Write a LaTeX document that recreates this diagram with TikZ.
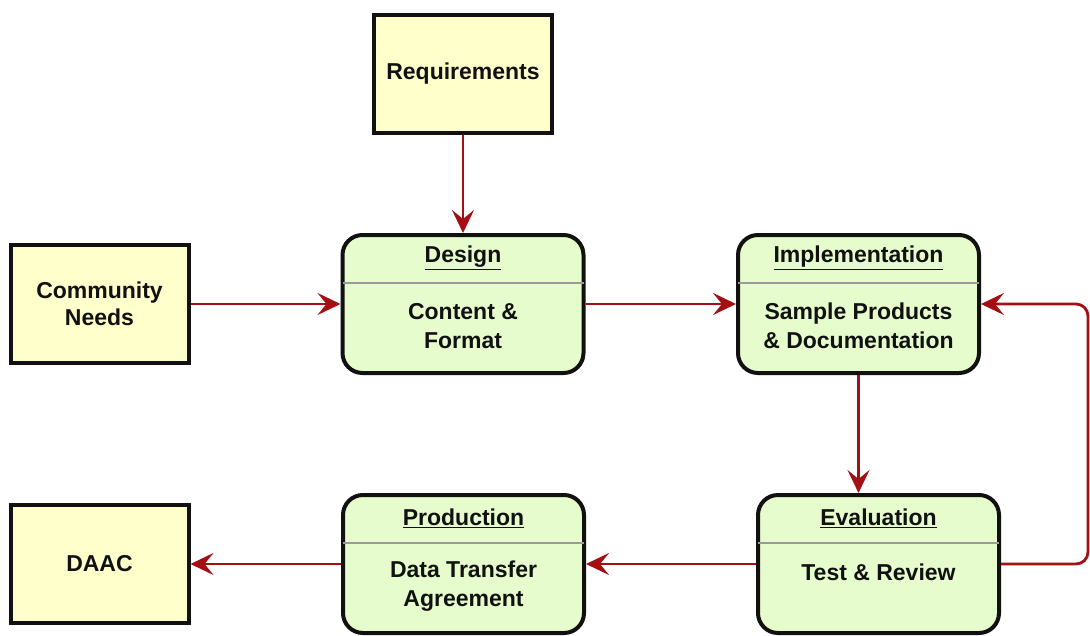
\documentclass[tikz,border=0pt]{standalone}
\usepackage{fontspec}
\setmainfont{Liberation Sans}
\usetikzlibrary{arrows.meta,calc}
\definecolor{boxyellow}{HTML}{FFFFCC}
\definecolor{boxgreen}{HTML}{E6FCCC}
\definecolor{flowred}{HTML}{A30F12}
\definecolor{divgray}{HTML}{9A9A9A}
\definecolor{inkblack}{HTML}{111111}
\tikzset{
  srcbox/.style={draw=inkblack, line width=4pt, fill=boxyellow, minimum width=178pt,
    minimum height=118pt, inner sep=0pt, align=center,
    font=\fontsize{23}{27}\selectfont\bfseries, text=inkblack},
  stagebox/.style={draw=inkblack, line width=4pt, fill=boxgreen, rounded corners=20pt,
    minimum width=241pt, minimum height=138pt, inner sep=0pt},
  stagetitle/.style={font=\fontsize{23}{27}\selectfont\bfseries, text=inkblack, inner sep=0pt},
  stagebody/.style={font=\fontsize{23}{29}\selectfont\bfseries, text=inkblack, align=center, inner sep=0pt},
  divider/.style={draw=divgray, line width=1.2pt},
  flow/.style={draw=flowred, line width=2.8pt,
    -{Stealth[length=23pt, width=22pt, inset=9pt]}, rounded corners=12pt}
}
\newcommand{\ul}[1]{\underline{#1}}
\begin{document}
\begin{tikzpicture}[x=1pt, y=-1pt]
\useasboundingbox (0,0) rectangle (1090,635);
\fill[white] (0,0) rectangle (1090,635);

% source and sink boxes
\node[srcbox] (req) at (463,73.5) {Requirements};
\node[srcbox] (comm) at (99.5,304) {Community\\Needs};
\node[srcbox] (daac) at (99.5,564) {DAAC};

% process stages
\node[stagebox] (des) at (463,304) {};
\node[stagebox] (imp) at (858.5,304) {};
\node[stagebox] (eva) at (878.5,564) {};
\node[stagebox] (pro) at (463.5,564) {};

% stage dividers, titles and contents
\foreach \s in {des,imp,eva,pro} {
  \draw[divider] ($(\s.north west)+(2,50)$) -- ($(\s.north east)+(-2,50)$);
}
\node[stagetitle] (desT) at ($(des.north)+(0,25)$) {\ul{Design}};
\node[stagebody] (desB) at ($(des.north)+(0,93)$) {Content \&\\Format};
\node[stagetitle] (impT) at ($(imp.north)+(0,25)$) {\ul{Implementation}};
\node[stagebody] (impB) at ($(imp.north)+(0,93)$) {Sample Products\\\& Documentation};
\node[stagetitle] (evaT) at ($(eva.north)+(0,25)$) {\ul{Evaluation}};
\node[stagebody] (evaB) at ($(eva.north)+(0,79)$) {Test \& Review};
\node[stagetitle] (proT) at ($(pro.north)+(0,25)$) {\ul{Production}};
\node[stagebody] (proB) at ($(pro.north)+(0,93)$) {Data Transfer\\Agreement};

% connectors
\draw[flow] (req.south) -- (des.north);
\draw[flow] (comm.east) -- (des.west);
\draw[flow] (des.east) -- (imp.west);
\draw[flow] (imp.south) -- (imp.south |- eva.north);
\draw[flow] (eva.west) -- (pro.east);
\draw[flow] (pro.west) -- (daac.east);
\coordinate (loopR) at (1088,0);
\draw[flow] (eva.east) -- (eva.east -| loopR) -- (imp.east -| loopR) -- (imp.east);
\end{tikzpicture}
\end{document}
